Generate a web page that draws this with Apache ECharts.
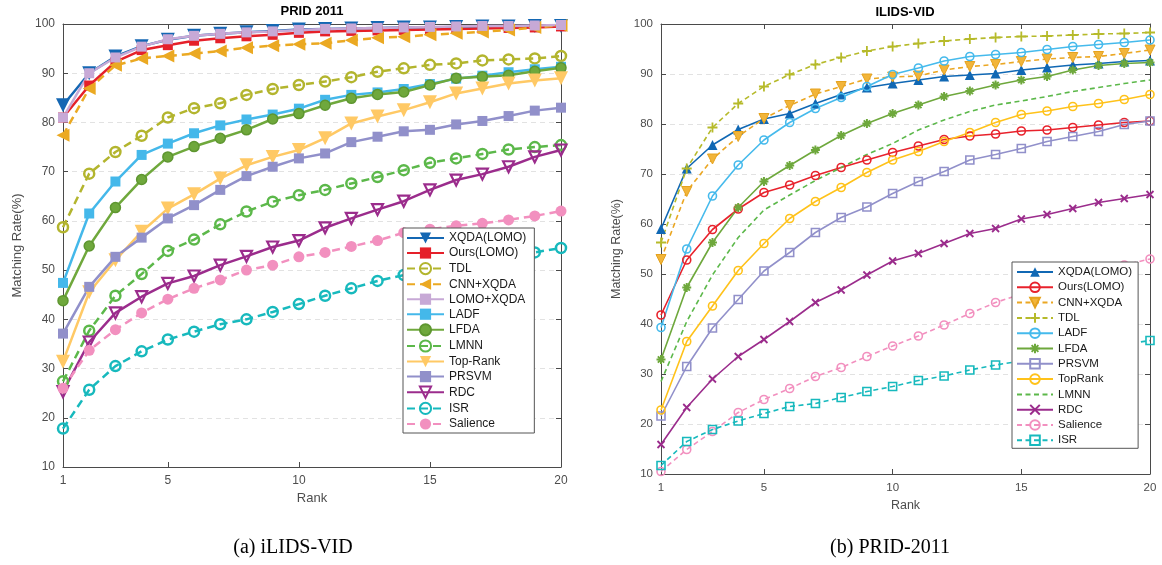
<!DOCTYPE html>
<html><head><meta charset="utf-8">
<script src="https://cdn.jsdelivr.net/npm/echarts@6/dist/echarts.min.js"></script>
<style>
html,body{margin:0;padding:0;background:#fff;}
#wrap{position:relative;width:1162px;height:565px;overflow:hidden;}
#c1{position:absolute;left:0;top:0;width:581px;height:565px;}
#c2{position:absolute;left:581px;top:0;width:581px;height:565px;}
</style></head><body>
<div id="wrap"><div id="c1"></div><div id="c2"></div></div>
<script>
// ---------- data ----------
const ranks = [1,2,3,4,5,6,7,8,9,10,11,12,13,14,15,16,17,18,19,20];
const xTickValues = [1,5,10,15,20];

// Left panel: PRID 2011
const pridTitle = 'PRID 2011';
const pridCaption = '(a) iLIDS-VID';
const pridNames = ['XQDA(LOMO)','Ours(LOMO)','TDL','CNN+XQDA','LOMO+XQDA','LADF','LFDA','LMNN','Top-Rank','PRSVM','RDC','ISR','Salience'];
const prid_XQDA      = [83.5,90.0,93.4,95.5,96.8,97.6,98.0,98.3,98.6,98.9,99.0,99.1,99.2,99.3,99.3,99.4,99.5,99.5,99.6,99.6];
const prid_Ours      = [81.0,87.5,92.3,94.7,95.7,96.6,97.1,97.5,97.8,98.2,98.5,98.6,98.7,98.8,98.9,99.0,99.1,99.2,99.3,99.5];
const prid_TDL       = [58.7,69.6,74.0,77.3,81.0,82.9,83.9,85.6,86.8,87.6,88.3,89.2,90.3,91.0,91.7,92.0,92.6,92.8,93.0,93.5];
const prid_CNN       = [77.4,86.9,91.6,93.0,93.5,94.0,94.5,95.2,95.6,95.9,96.1,96.7,97.2,97.4,97.8,98.1,98.4,98.8,99.3,99.7];
const prid_LOMOXQDA  = [81.0,90.0,93.2,95.4,96.9,97.6,98.0,98.3,98.5,98.8,99.0,99.1,99.2,99.3,99.4,99.5,99.6,99.6,99.7,99.8];
const prid_LADF      = [47.4,61.5,68.0,73.4,75.7,77.8,79.4,80.6,81.6,82.8,84.6,85.6,86.1,86.8,87.8,88.9,89.5,90.2,90.8,91.3];
const prid_LFDA      = [43.8,54.9,62.7,68.4,73.0,75.1,76.8,78.5,80.7,81.8,83.5,84.9,85.7,86.2,87.6,89.0,89.3,89.6,90.4,91.1];
const prid_LMNN      = [27.4,37.7,44.8,49.2,53.9,56.2,59.3,61.9,63.9,65.2,66.3,67.6,68.9,70.3,71.8,72.7,73.6,74.5,75.0,75.4];
const prid_TopRank   = [31.4,45.5,52.0,57.8,62.5,65.4,68.6,71.3,73.0,74.4,76.8,79.8,81.2,82.5,84.1,85.9,86.9,87.9,88.5,89.0];
const prid_PRSVM     = [37.1,46.6,52.7,56.6,60.5,63.2,66.3,69.1,71.0,72.7,73.7,76.0,77.1,78.2,78.5,79.6,80.3,81.3,82.4,83.0];
const prid_RDC       = [25.3,35.4,41.3,44.6,47.3,48.8,51.0,52.8,54.7,56.0,58.6,60.5,62.3,64.0,66.3,68.3,69.5,71.0,73.0,74.4];
const prid_ISR       = [17.8,25.7,30.5,33.5,35.9,37.5,39.0,40.0,41.5,43.1,44.8,46.3,47.8,49.0,50.0,51.0,51.8,52.7,53.6,54.5];
const prid_Salience  = [26.0,33.7,37.9,41.3,44.1,46.3,48.0,50.0,51.0,52.7,53.6,54.8,56.0,57.6,58.3,59.0,59.5,60.2,61.0,62.0];

// Right panel: ILIDS-VID
const ilidsTitle = 'ILIDS-VID';
const ilidsCaption = '(b) PRID-2011';
const ilidsNames = ['XQDA(LOMO)','Ours(LOMO)','CNN+XQDA','TDL','LADF','LFDA','PRSVM','TopRank','LMNN','RDC','Salience','ISR'];
const ilids_XQDA     = [59.0,71.1,75.8,78.9,81.0,82.1,84.1,85.9,87.3,88.1,88.8,89.5,89.8,90.1,90.8,91.3,91.8,92.1,92.5,92.7];
const ilids_Ours     = [41.8,52.8,58.9,63.0,66.3,67.8,69.7,71.3,72.8,74.3,75.6,76.9,77.6,78.0,78.6,78.8,79.3,79.8,80.3,80.6];
const ilids_CNN      = [52.9,66.5,73.0,77.5,81.1,83.7,86.0,87.5,89.0,89.4,89.6,90.8,91.5,91.9,92.5,93.0,93.3,93.5,94.1,94.8];
const ilids_TDL      = [56.3,71.1,79.3,84.1,87.5,89.9,91.9,93.3,94.6,95.5,96.1,96.6,97.0,97.3,97.5,97.6,97.8,98.0,98.1,98.3];
const ilids_LADF     = [39.3,55.0,65.6,71.8,76.8,80.3,83.1,85.3,87.5,89.9,91.2,92.6,93.5,93.9,94.3,94.9,95.5,95.9,96.3,96.8];
const ilids_LFDA     = [32.9,47.3,56.3,63.3,68.5,71.7,74.8,77.7,80.1,82.1,83.8,85.5,86.6,87.8,88.8,89.5,90.8,91.7,92.1,92.3];
const ilids_PRSVM    = [21.6,31.5,39.2,44.9,50.6,54.3,58.3,61.3,63.4,66.1,68.5,70.5,72.8,73.9,75.1,76.5,77.5,78.5,79.9,80.6];
const ilids_TopRank  = [22.8,36.5,43.6,50.7,56.1,61.1,64.5,67.3,70.3,72.8,74.5,76.5,78.3,80.3,81.9,82.6,83.5,84.1,84.9,85.9];
const ilids_LMNN     = [28.5,40.5,49.8,57.3,62.8,65.8,68.7,71.3,73.9,76.1,78.8,80.8,82.5,83.8,84.6,85.5,86.5,87.3,88.1,88.8];
const ilids_RDC      = [15.9,23.3,29.0,33.5,36.9,40.5,44.3,46.8,49.8,52.6,54.1,56.1,58.1,59.1,61.0,61.9,63.1,64.3,65.1,65.9];
const ilids_Salience = [10.5,14.9,18.5,22.3,24.9,27.1,29.5,31.3,33.5,35.6,37.6,39.8,42.1,44.3,46.0,47.6,49.1,50.5,51.8,53.0];
const ilids_ISR      = [11.7,16.5,18.9,20.6,22.1,23.5,24.1,25.3,26.5,27.5,28.7,29.6,30.8,31.8,32.6,33.5,34.3,35.1,35.9,36.7];

const yLabelText = 'Matching Rate(%)';
const xLabelText = 'Rank';

// ---------- styling ----------
const FONT = '"Liberation Sans", Arial, Helvetica, sans-serif';
const SERIF = '"Liberation Serif", "Times New Roman", serif';
const AXC = '#4a4a4a';
const TXT = '#4d4d4d';
const PLUS = 'path://M0,5L10,5M5,0L5,10';
const XMARK = 'path://M0,0L10,10M10,0L0,10';
const AST = 'path://M0,5L10,5M5,0L5,10M1.5,1.5L8.5,8.5M8.5,1.5L1.5,8.5';

function pts(v){ return ranks.map((r,i)=>[r, v[i]]); }

function line(name, values, st, lw, dash) {
  const noMark = st.sym === 'none';
  let itemStyle;
  if (noMark) itemStyle = {color:'rgba(0,0,0,0)', borderWidth:0};
  else if (st.open) itemStyle = {color:'rgba(0,0,0,0)', borderColor:st.c, borderWidth:st.bw};
  else itemStyle = {color:st.fc || st.c, borderColor:st.bc || st.c, borderWidth:st.bc ? st.bw : 0};
  return {
    name, type:'line', data:pts(values), clip:false,
    symbol: noMark ? 'circle' : st.sym,
    symbolSize: noMark ? 0 : st.size,
    symbolRotate: st.rot || 0,
    showSymbol: !noMark,
    symbolKeepAspect: true,
    lineStyle: {color:st.c, width:lw, type: st.dash ? dash : 'solid'},
    itemStyle,
    emphasis: {disabled:true},
    animation:false
  };
}

function makeOption(cfg) {
  const xBase = {
    type:'value', min:1, max:20,
    axisLine:{show:true, onZero:false, lineStyle:{color:AXC, width:1}},
    axisTick:{show:true, inside:true, length:5, customValues:xTickValues, lineStyle:{color:AXC}},
    splitLine:{show:false}
  };
  const yBase = {
    type:'value', min:10, max:100, interval:10,
    axisLine:{show:true, onZero:false, lineStyle:{color:AXC, width:1}},
    axisTick:{show:true, inside:true, length:5, lineStyle:{color:AXC}}
  };
  return {
    animation:false,
    backgroundColor:'#fff',
    textStyle:{fontFamily:FONT},
    grid:{left:cfg.gl, top:cfg.gt, width:cfg.gw, height:cfg.gh, containLabel:false, outerBoundsMode:'none'},
    xAxis:[
      Object.assign({}, xBase, {position:'bottom',
        axisLabel:{show:true, customValues:xTickValues, color:TXT, fontSize:cfg.fs, fontFamily:FONT, margin:8},
        name:xLabelText, nameLocation:'middle', nameGap:cfg.xGap,
        nameTextStyle:{color:TXT, fontSize:cfg.nfs, fontFamily:FONT}}),
      Object.assign({}, xBase, {position:'top', axisLabel:{show:false}})
    ],
    yAxis:[
      Object.assign({}, yBase, {position:'left',
        axisLabel:{show:true, color:TXT, fontSize:cfg.fs, fontFamily:FONT, margin:8},
        splitLine:{show:true, lineStyle:{color:'#e2e2e2', width:1, type:[5,4]}},
        name:yLabelText, nameLocation:'middle', nameGap:cfg.yGap,
        nameTextStyle:{color:TXT, fontSize:cfg.nfs, fontFamily:FONT}}),
      Object.assign({}, yBase, {position:'right', axisLabel:{show:false}, splitLine:{show:false}})
    ],
    legend:{
      orient:'vertical', left:cfg.lgL, top:cfg.lgT,
      itemWidth:cfg.lgW, itemHeight:cfg.lgH, itemGap:cfg.lgGap,
      padding:cfg.lgPad, backgroundColor:'#fff', borderColor:'#555', borderWidth:1,
      textStyle:{fontSize:cfg.lgFs, color:'#1a1a1a', fontFamily:FONT},
      selectedMode:false, data:cfg.names
    },
    graphic:[
      {type:'text', x:cfg.titleX, y:cfg.titleY, style:{text:cfg.title, font:'bold 13px ' + FONT, fill:'#000',
        align:'center', verticalAlign:'middle', textAlign:'center', textVerticalAlign:'middle'}},
      {type:'text', x:cfg.capX, y:cfg.capY, style:{text:cfg.caption, font:'20px ' + SERIF, fill:'#000',
        align:'center', verticalAlign:'middle', textAlign:'center', textVerticalAlign:'middle'}}
    ],
    series:cfg.series
  };
}

// left series styles
const LW = 2.5, LD = [8,5];
const leftSeries = [
  line(pridNames[0],  prid_XQDA,     {c:'#1467B3', sym:'triangle', size:14, rot:180}, LW, LD),
  line(pridNames[1],  prid_Ours,     {c:'#E5202A', sym:'rect', size:10}, LW, LD),
  line(pridNames[2],  prid_TDL,      {c:'#B3B52E', sym:'circle', size:10, open:true, bw:2.5, dash:true}, LW, LD),
  line(pridNames[3],  prid_CNN,      {c:'#EBA922', sym:'triangle', size:13, rot:90, dash:true}, LW, LD),
  line(pridNames[4],  prid_LOMOXQDA, {c:'#C7A9D6', sym:'rect', size:10}, LW, LD),
  line(pridNames[5],  prid_LADF,     {c:'#44B8EA', sym:'rect', size:10}, LW, LD),
  line(pridNames[6],  prid_LFDA,     {c:'#6FA83C', sym:'circle', size:10, bc:'#5E9630', bw:1.5}, LW, LD),
  line(pridNames[7],  prid_LMNN,     {c:'#5CB84A', sym:'circle', size:10, open:true, bw:2.5, dash:true}, LW, LD),
  line(pridNames[8],  prid_TopRank,  {c:'#FFC965', sym:'triangle', size:14, rot:180}, LW, LD),
  line(pridNames[9],  prid_PRSVM,    {c:'#9190CA', sym:'rect', size:10}, LW, LD),
  line(pridNames[10], prid_RDC,      {c:'#9B2C8C', sym:'triangle', size:11, rot:180, open:true, bw:2.2}, LW, LD),
  line(pridNames[11], prid_ISR,      {c:'#17B9BD', sym:'circle', size:10, open:true, bw:2.5, dash:true}, LW, LD),
  line(pridNames[12], prid_Salience, {c:'#F290BF', sym:'circle', size:11, dash:true}, LW, LD)
];

const RW = 1.6, RD = [5,3.5];
const rightSeries = [
  line(ilidsNames[0],  ilids_XQDA,     {c:'#1068B4', sym:'triangle', size:10}, RW, RD),
  line(ilidsNames[1],  ilids_Ours,     {c:'#E8222C', sym:'circle', size:8, open:true, bw:1.6}, RW, RD),
  line(ilidsNames[2],  ilids_CNN,      {c:'#EBA723', fc:'#F2B53A', bc:'#E5A21E', bw:1, sym:'triangle', size:10, rot:180, dash:true}, RW, RD),
  line(ilidsNames[3],  ilids_TDL,      {c:'#B6BA2A', sym:PLUS, size:10, open:true, bw:1.8, dash:true}, RW, RD),
  line(ilidsNames[4],  ilids_LADF,     {c:'#45BAEC', sym:'circle', size:8, open:true, bw:1.6}, RW, RD),
  line(ilidsNames[5],  ilids_LFDA,     {c:'#6EA83C', sym:AST, size:9, open:true, bw:2}, RW, RD),
  line(ilidsNames[6],  ilids_PRSVM,    {c:'#9190CA', sym:'rect', size:8, open:true, bw:1.6}, RW, RD),
  line(ilidsNames[7],  ilids_TopRank,  {c:'#FFC21A', sym:'circle', size:8, open:true, bw:1.6}, RW, RD),
  line(ilidsNames[8],  ilids_LMNN,     {c:'#5CB84A', sym:'none', dash:true}, RW, RD),
  line(ilidsNames[9],  ilids_RDC,      {c:'#9B2C8C', sym:XMARK, size:7, open:true, bw:1.8}, RW, RD),
  line(ilidsNames[10], ilids_Salience, {c:'#F290BF', sym:'circle', size:8, open:true, bw:1.6, dash:true}, RW, RD),
  line(ilidsNames[11], ilids_ISR,      {c:'#17B9BD', sym:'rect', size:8, open:true, bw:1.6, dash:true}, RW, RD)
];

const c1 = echarts.init(document.getElementById('c1'), null, {renderer:'canvas'});
c1.setOption(makeOption({
  gl:63, gt:24, gw:498, gh:443, fs:12, nfs:13, xGap:25, yGap:38,
  lgL:403, lgT:228, lgW:37, lgH:14, lgGap:3, lgPad:[4,8,3,3], lgFs:12,
  names:pridNames, title:pridTitle, titleX:312, titleY:11,
  caption:pridCaption, capX:293, capY:548, series:leftSeries
}));

const c2 = echarts.init(document.getElementById('c2'), null, {renderer:'canvas'});
c2.setOption(makeOption({
  gl:80, gt:24, gw:489, gh:450, fs:11.5, nfs:12.5, xGap:23, yGap:36,
  lgL:431, lgT:262, lgW:36, lgH:12, lgGap:3.3, lgPad:[4,6,2,4], lgFs:11.5,
  names:ilidsNames, title:ilidsTitle, titleX:324, titleY:12,
  caption:ilidsCaption, capX:309, capY:548, series:rightSeries
}));
</script>
</body></html>
